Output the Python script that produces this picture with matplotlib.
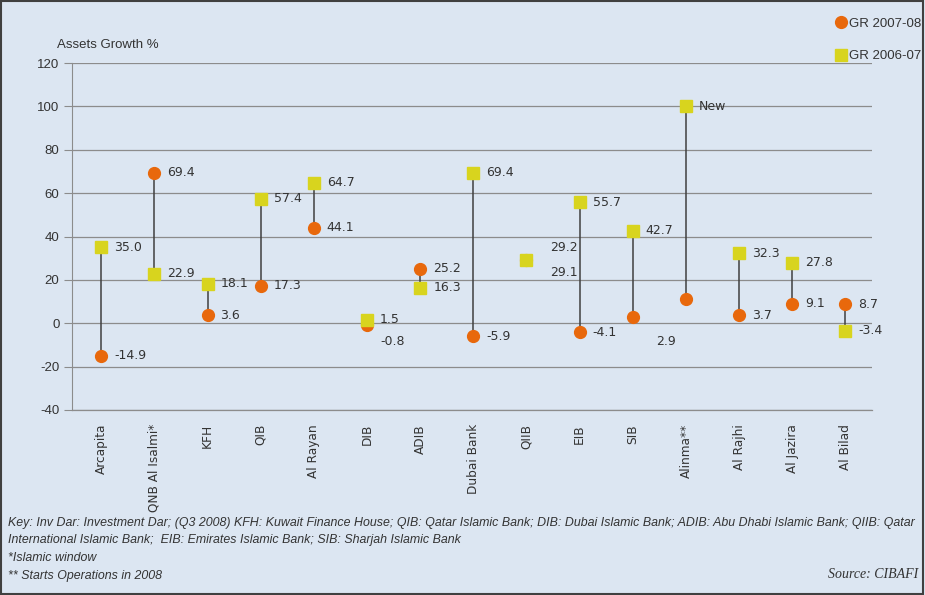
import matplotlib
matplotlib.use("Agg")
import matplotlib.pyplot as plt
from matplotlib.patches import Rectangle

banks = ["Arcapita", "QNB Al Isalmi*", "KFH", "QIB", "Al Rayan", "DIB", "ADIB",
         "Dubai Bank", "QIIB", "EIB", "SIB", "Alinma**", "Al Rajhi", "Al Jazira",
         "Al Bilad"]
gr_0708 = [-14.9, 69.4, 3.6, 17.3, 44.1, -0.8, 25.2, -5.9, 29.2, -4.1, 2.9, 11.0,
           3.7, 9.1, 8.7]
gr_0607 = [35.0, 22.9, 18.1, 57.4, 64.7, 1.5, 16.3, 69.4, 29.1, 55.7, 42.7, 100.0,
           32.3, 27.8, -3.4]
lab_0708 = ["-14.9", "69.4", "3.6", "17.3", "44.1", "-0.8", "25.2", "-5.9", "29.2",
            "-4.1", "2.9", "", "3.7", "9.1", "8.7"]
lab_0607 = ["35.0", "22.9", "18.1", "57.4", "64.7", "1.5", "16.3", "69.4", "29.1",
            "55.7", "42.7", "New", "32.3", "27.8", "-3.4"]
yticks = [-40, -20, 0, 20, 40, 60, 80, 100, 120]

BG = "#dce6f2"
ORANGE = "#e8680c"
YELLOW = "#d8d41e"
TXT = "#333333"
GRID = "#8c8c8c"
NARROW = ["Liberation Sans", "DejaVu Sans"]

fig = plt.figure(figsize=(9.25, 5.95), dpi=100, facecolor=BG)
ax = fig.add_axes([72 / 925, 1 - 410 / 595, 800 / 925, 347 / 595])
ax.set_facecolor(BG)

x = list(range(len(banks)))
# high-low connectors
ax.vlines(x, gr_0708, gr_0607, color="#404040", lw=1.1, zorder=2)
ax.plot(x, gr_0708, "o", ms=8.5, color=ORANGE, mec=ORANGE, zorder=3, label="GR 2007-08")
ax.plot(x, gr_0607, "s", ms=8, color=YELLOW, mec=YELLOW, zorder=4, label="GR 2006-07")

# label offsets in pixels (default: right of marker)
off_0708 = {5: (13, -17), 8: (24, 12), 10: (23, -25)}
off_0607 = {8: (24, -12)}
for i in x:
    dx, dy = off_0708.get(i, (13, 0))
    ax.annotate(lab_0708[i], (i, gr_0708[i]), xytext=(dx, dy), textcoords="offset pixels",
                ha="left", va="center", fontsize=9, color=TXT, zorder=5)
    dx, dy = off_0607.get(i, (13, 0))
    ax.annotate(lab_0607[i], (i, gr_0607[i]), xytext=(dx, dy), textcoords="offset pixels",
                ha="left", va="center", fontsize=9, color=TXT, zorder=5)

ax.set_xlim(-0.55, 14.5)
ax.set_ylim(-40, 120)
ax.set_yticks(yticks)
ax.set_yticklabels([str(v) for v in yticks], fontsize=9.5, color=TXT, family=NARROW)
ax.yaxis.grid(True, color=GRID, lw=0.9)
ax.set_axisbelow(True)
ax.tick_params(axis="y", length=6, color=GRID, pad=3)
ax.set_xticks(x)
ax.set_xticklabels(banks, rotation=90, fontsize=8.7, color=TXT)
ax.tick_params(axis="x", length=0, pad=10)
for s in ["top", "right"]:
    ax.spines[s].set_visible(False)
ax.spines["left"].set_color(GRID)
ax.spines["bottom"].set_color(GRID)
ax.spines["bottom"].set_linewidth(0.9)

fig.text(57 / 925, 1 - 45 / 595, "Assets Growth %", fontsize=9.5, color=TXT,
         va="center", family=NARROW)

ax.legend(loc="upper left", bbox_to_anchor=(829 / 925, 1 - 11 / 595),
          bbox_transform=fig.transFigure, frameon=False,
          prop={"size": 9.5, "family": NARROW},
          handlelength=0.8, handletextpad=0.2, labelspacing=1.52, borderpad=0,
          labelcolor=TXT)

foot = dict(fontsize=8.9, style="italic", color=TXT, family=NARROW)
fig.text(8 / 925, 1 - 523 / 595,
         "Key: Inv Dar: Investment Dar; (Q3 2008) KFH: Kuwait Finance House; QIB: Qatar Islamic Bank; "
         "DIB: Dubai Islamic Bank; ADIB: Abu Dhabi Islamic Bank; QIIB: Qatar", va="center", **foot)
fig.text(8 / 925, 1 - 540 / 595,
         "International Islamic Bank;  EIB: Emirates Islamic Bank; SIB: Sharjah Islamic Bank",
         va="center", **foot)
fig.text(8 / 925, 1 - 558 / 595, "*Islamic window", va="center", **foot)
fig.text(8 / 925, 1 - 576 / 595, "** Starts Operations in 2008", va="center", **foot)
fig.text(918 / 925, 1 - 575 / 595, "Source: CIBAFI", va="center", ha="right",
         fontsize=10, style="italic", family=["Liberation Serif", "DejaVu Serif"], color=TXT)

fig.add_artist(Rectangle((0.001, 0.002), 0.997, 0.996, transform=fig.transFigure,
                         fill=False, ec="#404040", lw=1.5))

fig.savefig("out.png", dpi=100, facecolor=BG)
